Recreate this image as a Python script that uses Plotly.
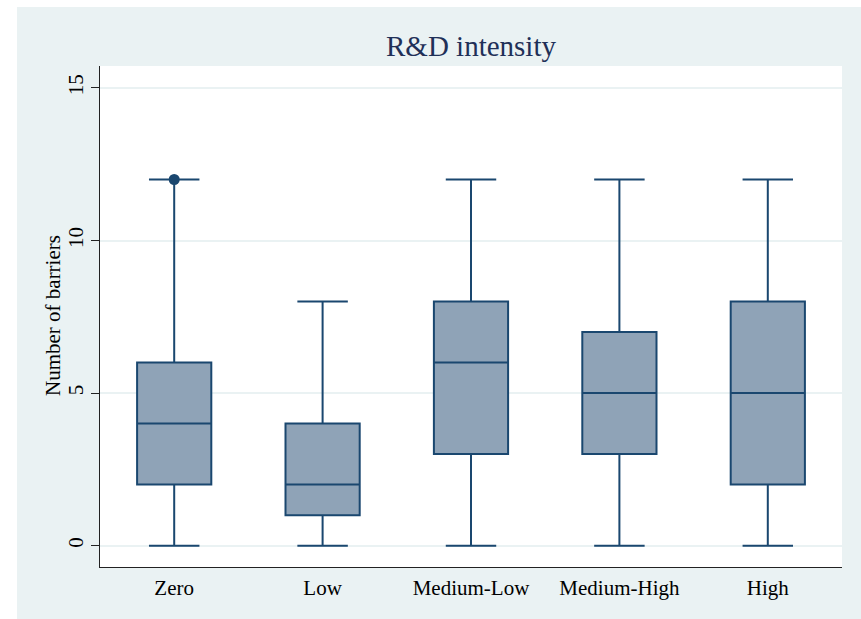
import plotly.graph_objects as go

categories = ["Zero", "Low", "Medium-Low", "Medium-High", "High"]
lower_whisker = [0, 0, 0, 0, 0]
q1_values = [2, 1, 3, 3, 2]
median_values = [4, 2, 6, 5, 5]
q3_values = [6, 4, 8, 7, 8]
upper_whisker = [12, 8, 12, 12, 12]
outlier_categories = ["Zero"]
outlier_values = [12]
y_ticks = [0, 5, 10, 15]

NAVY = "#1A476F"
FILL = "#8FA3B7"
BG = "#EAF2F3"
FONT = "Liberation Serif, Times New Roman, serif"

W, H = 861, 619
ML, MR, MT, MB = 100, 19, 66, 52
PW, PH = W - ML - MR, H - MT - MB

fig = go.Figure()
fig.add_trace(go.Box(
    x=categories,
    q1=q1_values, median=median_values, q3=q3_values,
    lowerfence=lower_whisker, upperfence=upper_whisker,
    fillcolor=FILL,
    line=dict(color=NAVY, width=2),
    width=0.5,
    whiskerwidth=0.68,
    boxpoints=False,
    showlegend=False,
    hoverinfo="skip",
))
fig.add_trace(go.Scatter(
    x=outlier_categories, y=outlier_values, mode="markers",
    marker=dict(color=NAVY, size=11),
    showlegend=False, hoverinfo="skip",
))

def px_x(px):
    return (px - ML) / PW

def px_y(py):
    return (H - MB - py) / PH

shapes = [
    dict(type="rect", xref="paper", yref="paper",
         x0=px_x(0), x1=px_x(17), y0=px_y(H), y1=px_y(0),
         fillcolor="white", line=dict(width=0), layer="above"),
    dict(type="rect", xref="paper", yref="paper",
         x0=px_x(0), x1=px_x(W), y0=px_y(7), y1=px_y(0),
         fillcolor="white", line=dict(width=0), layer="above"),
]

fig.update_layout(
    width=W, height=H,
    margin=dict(l=ML, r=MR, t=MT, b=MB, pad=0),
    paper_bgcolor=BG,
    plot_bgcolor="white",
    font=dict(family=FONT, size=21, color="black"),
    title=dict(text="R&D intensity", x=0.5, xref="paper", xanchor="center",
               y=1 - 46 / H, yref="container", yanchor="middle",
               font=dict(family=FONT, size=29, color="#1F3058")),
    shapes=shapes,
    annotations=[dict(
        text="Number of barriers", textangle=-90,
        xref="paper", yref="paper", x=px_x(53), y=px_y(316),
        xanchor="center", yanchor="middle", showarrow=False,
        font=dict(family=FONT, size=21, color="black"),
    )],
    xaxis=dict(
        type="category", categoryorder="array", categoryarray=categories,
        range=[-0.5, 4.5],
        showline=True, linecolor="#222", linewidth=1,
        ticks="", showgrid=False, zeroline=False,
        tickfont=dict(family=FONT, size=21, color="black"),
        ticklabelstandoff=2,
    ),
    yaxis=dict(
        range=[-0.7, 15.72],
        tickvals=y_ticks, ticktext=[str(v) for v in y_ticks],
        tickangle=-90,
        ticks="outside", ticklen=8, tickcolor="#222", tickwidth=1,
        showline=True, linecolor="#222", linewidth=1,
        showgrid=True, gridcolor=BG, gridwidth=1.5,
        zeroline=False,
        tickfont=dict(family=FONT, size=21, color="black"),
    ),
)

fig.write_html("out.html")
